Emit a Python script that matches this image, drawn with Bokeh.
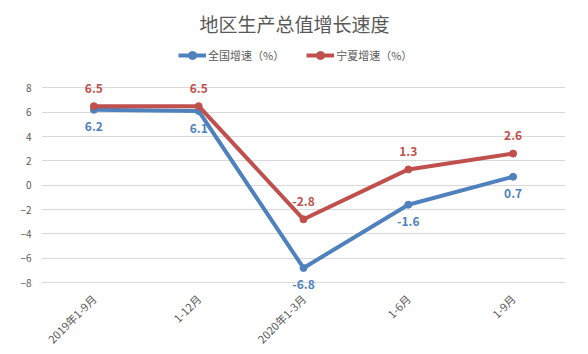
import math
from bokeh.plotting import figure
from bokeh.models import ColumnDataSource, Label, Legend, LegendItem, FixedTicker, Range1d
from bokeh.core.properties import value
from bokeh.embed import file_html
from bokeh.resources import INLINE

categories = ["2019年1-9月", "1-12月", "2020年1-3月", "1-6月", "1-9月"]
national = [6.2, 6.1, -6.8, -1.6, 0.7]
ningxia = [6.5, 6.5, -2.8, 1.3, 2.6]
y_ticks = [-8, -6, -4, -2, 0, 2, 4, 6, 8]

BLUE = "#4F81BD"
RED = "#C0504D"
GREY = "#595959"
FONT = "Noto Sans CJK SC"

# layout: value 8 at pixel 88, -8 at pixel 284; frame spans pixel 0..296
PX_PER_UNIT = (284 - 88) / 16.0
FRAME_BOTTOM = 296
y_end = 8 + 88 / PX_PER_UNIT
y_start = -8 - (FRAME_BOTTOM - 284) / PX_PER_UNIT

xs = list(range(len(categories)))
src = ColumnDataSource(dict(
    x=xs, nat=national, nx=ningxia,
    nat_t=[f"{v:g}" for v in national],
    nx_t=[f"{v:g}" for v in ningxia],
))

p = figure(width=588, height=354, output_backend="svg", toolbar_location=None,
           x_range=Range1d(-0.5, len(categories) - 0.5), y_range=Range1d(y_start, y_end),
           min_border_left=41, min_border_right=23, min_border_top=0,
           min_border_bottom=354 - FRAME_BOTTOM)
p.outline_line_color = None
p.background_fill_color = "white"
p.border_fill_color = "white"

p.xgrid.visible = False
p.ygrid.grid_line_color = "#D9D9D9"
p.ygrid.grid_line_width = 1

p.yaxis.ticker = FixedTicker(ticks=y_ticks)
p.yaxis.axis_line_color = None
p.yaxis.major_tick_line_color = None
p.yaxis.major_tick_out = 0
p.yaxis.minor_tick_line_color = None
p.yaxis.major_label_text_color = GREY
p.yaxis.major_label_text_font = FONT
p.yaxis.major_label_text_font_size = "10px"
p.yaxis.major_label_standoff = 10

p.xaxis.ticker = FixedTicker(ticks=xs)
p.xaxis.major_label_overrides = {i: c for i, c in enumerate(categories)}
p.xaxis.axis_line_color = None
p.xaxis.major_tick_line_color = None
p.xaxis.major_tick_out = 0
p.xaxis.minor_tick_line_color = None
p.xaxis.major_label_orientation = math.pi / 4
p.xaxis.major_label_text_color = GREY
p.xaxis.major_label_text_font = FONT
p.xaxis.major_label_text_font_size = "11px"
p.xaxis.major_label_standoff = 2

l1 = p.line("x", "nat", source=src, line_color=BLUE, line_width=4)
s1 = p.scatter("x", "nat", source=src, size=7, fill_color=BLUE, line_color=BLUE)
l2 = p.line("x", "nx", source=src, line_color=RED, line_width=4)
s2 = p.scatter("x", "nx", source=src, size=7, fill_color=RED, line_color=RED)

p.text("x", "nat", text="nat_t", source=src, y_offset=17, text_align="center",
       text_baseline="middle", text_color=BLUE, text_font=value(FONT),
       text_font_size="12px", text_font_style="bold")
p.text("x", "nx", text="nx_t", source=src, y_offset=-18, text_align="center",
       text_baseline="middle", text_color=RED, text_font=value(FONT),
       text_font_size="12px", text_font_style="bold")

legend = Legend(items=[LegendItem(label="全国增速（%）", renderers=[l1, s1]),
                       LegendItem(label="宁夏增速（%）", renderers=[l2, s2])],
                orientation="horizontal", location=(137, FRAME_BOTTOM - 67),
                padding=0, margin=0, spacing=22, label_standoff=2,
                glyph_width=28, glyph_height=20, label_height=20,
                label_text_font=FONT, label_text_font_size="11px",
                label_text_color=GREY, border_line_color=None,
                background_fill_alpha=0)
p.add_layout(legend, "center")

title = Label(x=253, y=FRAME_BOTTOM - 25, x_units="screen", y_units="screen",
              text="地区生产总值增长速度",
              text_align="center", text_baseline="middle", text_font=FONT,
              text_font_size="19px", text_color=GREY)
p.add_layout(title)

open("out.html", "w").write(file_html(p, INLINE))
